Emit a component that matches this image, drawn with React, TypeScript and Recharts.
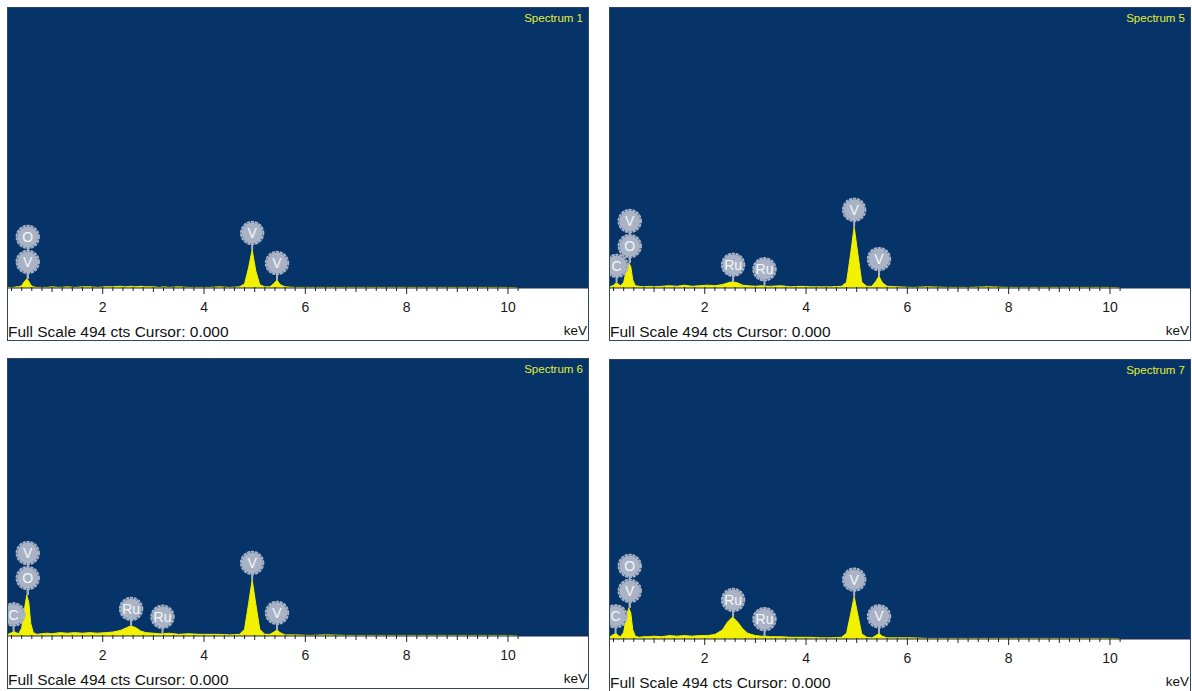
import React from 'react';
import { ComposedChart, Area, XAxis, YAxis, ReferenceDot } from 'recharts';

// Energy grid (keV) shared by all spectra
const energies = [0.13, 0.2, 0.25, 0.29, 0.34, 0.4, 0.45, 0.5, 0.54, 0.58, 0.63, 0.7, 0.8, 0.9, 1.0, 1.15, 1.3, 1.45, 1.6, 1.75, 1.9, 2.05, 2.2, 2.35, 2.45, 2.55, 2.65, 2.75, 2.85, 3.0, 3.12, 3.2, 3.3, 3.5, 3.7, 3.9, 4.1, 4.3, 4.5, 4.7, 4.8, 4.88, 4.95, 5.02, 5.1, 5.2, 5.3, 5.38, 5.44, 5.5, 5.6, 5.8, 6.1, 6.4, 6.8, 7.2, 7.6, 8.0, 8.4, 8.8, 9.2, 9.6, 10.0, 10.2];

const spectrum1 = [1, 1, 1, 2, 2, 4, 11, 16, 12, 5, 2, 1, 1, 1, 2, 1, 2, 1, 2, 2, 1, 2, 2, 3, 2, 3, 2, 3, 2, 2, 1, 2, 1, 2, 1, 1, 1, 2, 1, 2, 7, 36, 67, 31, 6, 2, 2, 8, 14, 6, 2, 1, 1, 1, 1, 1, 1, 1, 1, 1, 1, 1, 1, 0];
const spectrum5 = [2, 5, 9, 7, 4, 10, 30, 44, 38, 14, 4, 3, 2, 3, 2, 3, 4, 3, 5, 3, 4, 5, 4, 6, 9, 11, 9, 5, 4, 3, 4, 3, 3, 4, 2, 3, 2, 2, 2, 3, 10, 60, 108, 62, 10, 3, 3, 12, 21, 10, 3, 2, 1, 2, 1, 1, 2, 1, 1, 1, 1, 1, 1, 0];
const spectrum6 = [3, 6, 8, 6, 4, 14, 45, 73, 60, 22, 6, 3, 4, 5, 4, 6, 5, 6, 5, 6, 5, 6, 7, 10, 14, 18, 15, 9, 6, 5, 4, 4, 5, 3, 4, 3, 3, 3, 2, 3, 12, 58, 100, 58, 12, 3, 3, 7, 11, 6, 2, 2, 1, 2, 1, 1, 1, 1, 1, 1, 1, 1, 1, 0];
const spectrum7 = [4, 8, 10, 6, 4, 12, 38, 55, 46, 16, 5, 3, 4, 4, 5, 4, 6, 5, 6, 5, 6, 6, 8, 16, 30, 39, 30, 18, 10, 6, 5, 5, 4, 4, 3, 3, 3, 2, 2, 3, 10, 44, 75, 44, 9, 3, 2, 6, 10, 5, 2, 2, 2, 1, 1, 1, 1, 1, 1, 1, 1, 1, 1, 0];

// Element markers: label, energy (keV), counts at stem foot, stack level
const markers1 = [
  { label: 'O', e: 0.52, c: 16, level: 1 },
  { label: 'V', e: 0.52, c: 16, level: 0 },
  { label: 'V', e: 4.95, c: 67, level: 0 },
  { label: 'V', e: 5.44, c: 14, level: 0 },
];
const markers5 = [
  { label: 'V', e: 0.52, c: 44, level: 1 },
  { label: 'C', e: 0.26, c: 9, level: 0 },
  { label: 'O', e: 0.52, c: 44, level: 0 },
  { label: 'Ru', e: 2.56, c: 11, level: 0 },
  { label: 'Ru', e: 3.18, c: 3, level: 0 },
  { label: 'V', e: 4.95, c: 108, level: 0 },
  { label: 'V', e: 5.44, c: 21, level: 0 },
];
const markers6 = [
  { label: 'V', e: 0.52, c: 73, level: 1 },
  { label: 'C', e: 0.24, c: 8, level: 0 },
  { label: 'O', e: 0.52, c: 73, level: 0 },
  { label: 'Ru', e: 2.56, c: 18, level: 0 },
  { label: 'Ru', e: 3.18, c: 4, level: 0 },
  { label: 'V', e: 4.95, c: 100, level: 0 },
  { label: 'V', e: 5.44, c: 11, level: 0 },
];
const markers7 = [
  { label: 'O', e: 0.52, c: 55, level: 1 },
  { label: 'C', e: 0.24, c: 10, level: 0 },
  { label: 'V', e: 0.52, c: 55, level: 0 },
  { label: 'Ru', e: 2.56, c: 39, level: 0 },
  { label: 'Ru', e: 3.18, c: 5, level: 0 },
  { label: 'V', e: 4.95, c: 75, level: 0 },
  { label: 'V', e: 5.44, c: 10, level: 0 },
];

const majorLabels = [2, 4, 6, 8, 10];
const tickValues = Array.from({ length: 51 }, (_, i) => Math.round((i + 1) * 2) / 10);
const fullScale = 494;
const footerText = 'Full Scale 494 cts Cursor: 0.000';

const BLUE = '#063469';
const YELLOW = '#f2f200';
const MARK = '#a9b3c5';
const FONT = '"Liberation Sans", Arial, sans-serif';
const PANEL_W = 580;
const FOOT_H = 52;

const EnergyTick = (props: any) => {
  const { x, y, payload } = props;
  const v = payload.value as number;
  const tenth = Math.round(v * 10);
  const isInt = tenth % 10 === 0;
  const isEven = tenth % 20 === 0;
  const len = isEven ? 6 : isInt ? 4 : 3;
  const showLabel = majorLabels.includes(Math.round(v)) && isEven;
  return (
    <g>
      <line x1={x} x2={x} y1={y - 1} y2={y + len} stroke="#222" strokeWidth={1} />
      {showLabel && (
        <text x={x} y={y + 24} textAnchor="middle" fontSize={14} fill="#1a1a1a" fontFamily={FONT}>
          {Math.round(v)}
        </text>
      )}
    </g>
  );
};

const ElementMarker = ({ cx, cy, label, level }: any) => {
  const cyc = cy - 17 - level * 25;
  return (
    <g>
      <line x1={cx} x2={cx} y1={cy} y2={cyc} stroke={MARK} strokeWidth={2} />
      <circle cx={cx} cy={cyc} r={10.5} fill={MARK} />
      <circle cx={cx} cy={cyc} r={11.2} fill="none" stroke={MARK} strokeWidth={2} strokeLinecap="round" strokeDasharray="1.6 2.4" />
      <text x={cx} y={cyc + 5} textAnchor="middle" fontSize={14} fill="#f4f6fa" fontFamily={FONT}>
        {label}
      </text>
    </g>
  );
};

const Panel = ({ left, top, plotH, title, counts, markers }: any) => {
  const data = energies.map((e, i) => ({ e, c: counts[i] }));
  const h = plotH + FOOT_H;
  return (
    <div
      style={{
        position: 'absolute',
        left,
        top,
        width: PANEL_W,
        height: h,
        background: `linear-gradient(${BLUE} 0px, ${BLUE} ${plotH}px, #ffffff ${plotH}px)`,
        outline: '1px solid #2e4563',
      }}
    >
      <ComposedChart width={PANEL_W} height={h} data={data} margin={{ top: 0, right: 0, bottom: 0, left: 0 }}>
        <XAxis
          dataKey="e"
          type="number"
          domain={[0.13, 11.58]}
          allowDataOverflow
          ticks={tickValues}
          interval={0}
          tick={<EnergyTick />}
          tickLine={false}
          tickSize={0}
          tickMargin={0}
          axisLine={{ stroke: '#1c2b40' }}
          height={FOOT_H}
        />
        <YAxis hide domain={[0, fullScale]} allowDataOverflow />
        <Area
          type="linear"
          dataKey="c"
          stroke={YELLOW}
          strokeWidth={1}
          fill={YELLOW}
          fillOpacity={1}
          isAnimationActive={false}
          dot={false}
          activeDot={false}
        />
        {markers.map((m: any, i: number) => (
          <ReferenceDot
            key={i}
            x={m.e}
            y={m.c}
            r={0}
            ifOverflow="visible"
            shape={(p: any) => <ElementMarker cx={p.cx} cy={p.cy} label={m.label} level={m.level} />}
          />
        ))}
      </ComposedChart>
      <div style={{ position: 'absolute', right: 5, top: 4, color: '#e4ee30', fontSize: 11.5, fontFamily: FONT }}>{title}</div>
      <div style={{ position: 'absolute', left: 0, top: plotH + 35, color: '#111', fontSize: 15.5, fontFamily: FONT, whiteSpace: 'nowrap' }}>
        {footerText}
      </div>
      <div style={{ position: 'absolute', right: 1, top: plotH + 35, color: '#111', fontSize: 13.5, fontFamily: FONT }}>keV</div>
    </div>
  );
};

export default function App() {
  return (
    <div style={{ position: 'absolute', left: 0, top: 0, width: 1192, height: 691, background: '#ffffff', overflow: 'hidden' }}>
      <Panel left={8} top={8} plotH={280} title="Spectrum 1" counts={spectrum1} markers={markers1} />
      <Panel left={610} top={8} plotH={280} title="Spectrum 5" counts={spectrum5} markers={markers5} />
      <Panel left={8} top={359} plotH={277} title="Spectrum 6" counts={spectrum6} markers={markers6} />
      <Panel left={610} top={360} plotH={279} title="Spectrum 7" counts={spectrum7} markers={markers7} />
    </div>
  );
}
